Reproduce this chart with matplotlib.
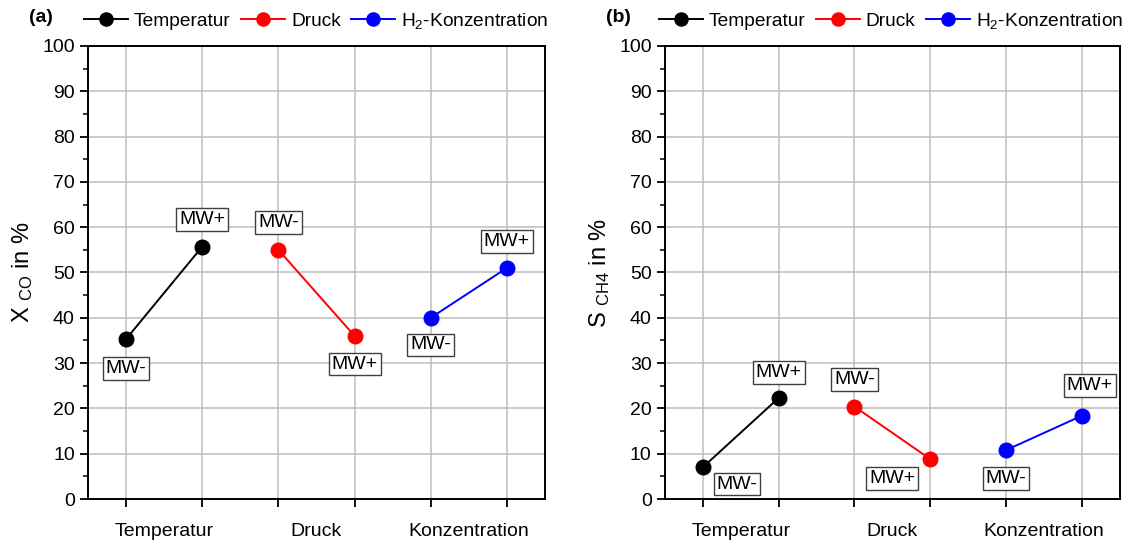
import matplotlib.pyplot as plt
import matplotlib as mpl
import numpy as np

mpl.rcParams['font.family'] = 'Liberation Sans'
mpl.rcParams['mathtext.fontset'] = 'custom'
mpl.rcParams['mathtext.rm'] = 'Liberation Sans'
mpl.rcParams['mathtext.it'] = 'Liberation Sans:italic'

groups = ['Temperatur', 'Druck', 'Konzentration']
series_names = ['Temperatur', 'Druck', 'H$_2$-Konzentration']
colors = ['black', 'red', 'blue']

# MW-, MW+ per Parameter
x_co = [[35.3, 55.7], [55.0, 36.0], [40.0, 51.0]]
s_ch4 = [[7.0, 22.3], [20.4, 8.8], [10.8, 18.4]]

# Label-Offsets (dx in x-Einheiten, dy in %)
offs_a = [[(0, -6.5), (0, 6)], [(0, 6), (0, -6.2)], [(0, -6), (0, 5.8)]]
offs_b = [[(0.45, -3.7), (0, 5.6)], [(0, 6), (-0.5, -4.2)], [(0, -6.2), (0.1, 6.6)]]

fig = plt.figure(figsize=(11.25, 5.4), dpi=100)
ax1 = fig.add_axes([0.0782, 0.0759, 0.4062, 0.839])
ax2 = fig.add_axes([0.591, 0.0759, 0.4045, 0.839])

def panel(ax, data, offs, ylab, tag, lx):
    x = np.arange(1, 7)
    for i, (vals, c, name) in enumerate(zip(data, colors, series_names)):
        xx = x[2 * i:2 * i + 2]
        ax.plot(xx, vals, '-o', color=c, lw=1.4, markersize=10.5, label=name, zorder=3)
        for j, txt in enumerate(['MW-', 'MW+']):
            dx, dy = offs[i][j]
            ax.text(xx[j] + dx, vals[j] + dy, txt, ha='center', va='center', fontsize=14,
                    bbox=dict(boxstyle='square,pad=0.15', fc='white', ec='#404040', lw=1.0), zorder=4)
    ax.set_xlim(0.5, 6.5)
    ax.set_ylim(0, 100)
    ax.set_xticks(x)
    ax.set_xticklabels([])
    ax.set_xticks([1.5, 3.5, 5.5], minor=True)
    ax.set_xticklabels(groups, minor=True, fontsize=14)
    ax.tick_params(axis='x', which='minor', length=0, pad=17)
    ax.tick_params(axis='x', which='major', length=6, width=1.3)
    ax.set_yticks(np.arange(0, 101, 10))
    ax.set_yticks(np.arange(0, 101, 5), minor=True)
    ax.tick_params(axis='y', which='major', length=6, width=1.3, labelsize=14)
    ax.tick_params(axis='y', which='minor', length=3.5, width=1.1)
    ax.grid(True, which='major', color='#bdbdbd', lw=1.1)
    ax.set_axisbelow(True)
    for s in ax.spines.values():
        s.set_linewidth(1.4)
    ax.set_ylabel(ylab, fontsize=17, labelpad=5)
    ax.legend(loc='lower left', bbox_to_anchor=(lx, 1.003), ncol=3, frameon=False, fontsize=13.8,
              handlelength=2.3, handletextpad=0.3, columnspacing=0.55, borderaxespad=0.3, markerscale=0.9)
    ax.text(-0.13, 1.045, tag, transform=ax.transAxes, fontsize=14, fontweight='bold', ha='left', va='bottom')

panel(ax1, x_co, offs_a, 'X $_\\mathrm{CO}$ in %', '(a)', -0.038)
panel(ax2, s_ch4, offs_b, 'S $_\\mathrm{CH4}$ in %', '(b)', -0.043)

plt.savefig('out.png', dpi=100)
